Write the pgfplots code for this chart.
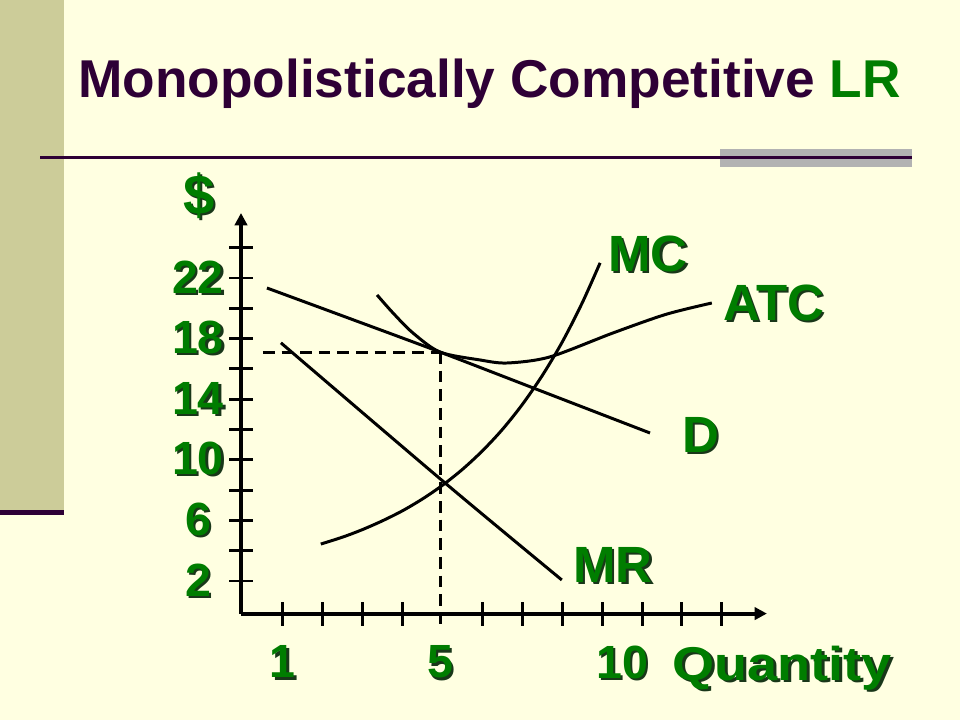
\documentclass[border=0pt]{standalone}
\usepackage{pgfplots}
\pgfplotsset{compat=1.18}
\usetikzlibrary{arrows.meta}
\usepackage{fontspec}
\setmainfont{Liberation Sans}
\definecolor{bg}{HTML}{FFFFE1}
\definecolor{band}{HTML}{CCCC99}
\definecolor{plum}{HTML}{2E0036}
\definecolor{lgreen}{RGB}{0,125,0}
\definecolor{shadowc}{RGB}{25,55,25}
\definecolor{barg}{HTML}{B2B2B2}
\newcommand\sh[1]{\makebox[0pt][l]{\kern1.3pt\raisebox{-1.3pt}{\textcolor{shadowc}{#1}}}#1}
\newcommand\lbl{\fontsize{29}{34}\selectfont\bfseries}
\newcommand\tkl{\fontsize{26.5}{31}\selectfont\bfseries}
\begin{document}
\begin{tikzpicture}
\useasboundingbox (0,0) rectangle (19.2,14.4);
\fill[bg] (0,0) rectangle (19.2,14.4);
\begin{scope}[x=0.02cm,y=-0.02cm,shift={(0cm,14.4cm)}]
  \fill[band] (0,0) rectangle (64,510);
  \fill[plum] (0,510) rectangle (64,515);
  \fill[barg] (720,149) rectangle (912,167);
  \draw[plum, line width=1.7pt] (40,157) -- (912,157);
  \node[anchor=base west, inner sep=0pt, text=plum, font=\fontsize{30.3}{36}\selectfont\bfseries] at (78,97) {Monopolistically Competitive \textcolor{lgreen}{LR}};
  \node[text=lgreen, font=\fontsize{32}{38}\selectfont\bfseries] at (199,197) {\sh{\$}};
  \node[anchor=base west, inner sep=0pt, text=lgreen, font=\lbl] at (608,271) {\sh{MC}};
  \node[anchor=base west, inner sep=0pt, text=lgreen, font=\lbl] at (723,320) {\sh{ATC}};
  \node[anchor=base west, inner sep=0pt, text=lgreen, font=\lbl] at (682,452) {\sh{D}};
  \node[anchor=base west, inner sep=0pt, text=lgreen, font=\lbl] at (573,582) {\sh{MR}};
  \node[anchor=base west, inner sep=0pt, text=lgreen, font=\fontsize{27}{32}\selectfont\bfseries] at (672,680) {\scalebox{1.14}[1]{\sh{Quantity}}};
\end{scope}
\begin{axis}[
  at={(4.86cm,2.174cm)}, anchor=origin,
  x=0.798cm, y=0.303cm,
  xmin=-0.05, xmax=13.13, ymin=-0.15, ymax=26.29,
  axis lines=left,
  axis line style={line width=2.3pt, -{Triangle[length=7pt,width=7pt]}},
  clip=false,
  tick align=center,
  major tick length=0.48cm,
  tick style={black, line width=1.7pt},
  xtick={1,2,3,4,6,7,8,9,10,11,12},
  xticklabels={\sh{1},,,,,,,,\sh{10}\hspace*{0.8cm},,},
  extra x ticks={4.94},
  extra x tick labels={\sh{5}},
  extra x tick style={major tick style={draw=none}},
  ytick={2,4,...,24},
  yticklabels={\sh{2},,\sh{6},,\sh{10},,\sh{14},,\sh{18},,\sh{22},},
  xticklabel style={font=\tkl, text=lgreen, anchor=north, yshift=-0.28cm},
  yticklabel style={font=\tkl, text=lgreen, anchor=center, xshift=-0.62cm},
]
% Demand
\addplot[smooth, line width=1.7pt] coordinates {(0.60,21.34) (2.68,19.32) (4.94,17.11) (7.57,14.44) (10.20,11.77)};
% Marginal revenue
\addplot[smooth, line width=1.7pt] coordinates {(0.95,17.72) (5.06,8.48) (7.99,2.07)};
% Marginal cost
\addplot[smooth, line width=1.7pt] coordinates {(1.95,4.44) (2.5,4.90) (3.0,5.40) (3.5,5.98) (4.0,6.64) (4.5,7.42) (5.0,8.32) (5.5,9.37) (6.0,10.59) (6.5,12.00) (7.0,13.65) (7.5,15.56) (8.0,17.77) (8.5,20.35) (8.95,23.0)};
% Average total cost
\addplot[smooth, line width=1.7pt] coordinates {(3.36,20.88) (3.76,19.69) (4.26,18.37) (4.94,17.11) (5.94,16.59) (6.62,16.39) (7.69,16.79) (9.27,18.37) (10.6,19.6) (11.75,20.35)};
% dashed guides
\addplot[line width=1.7pt, dash pattern=on 6.6pt off 4pt] coordinates {(0.5,17.11) (4.94,17.11)};
\addplot[line width=1.7pt, dash pattern=on 6.6pt off 4pt] coordinates {(4.94,17.11) (4.94,-0.97)};
\end{axis}
\end{tikzpicture}
\end{document}
